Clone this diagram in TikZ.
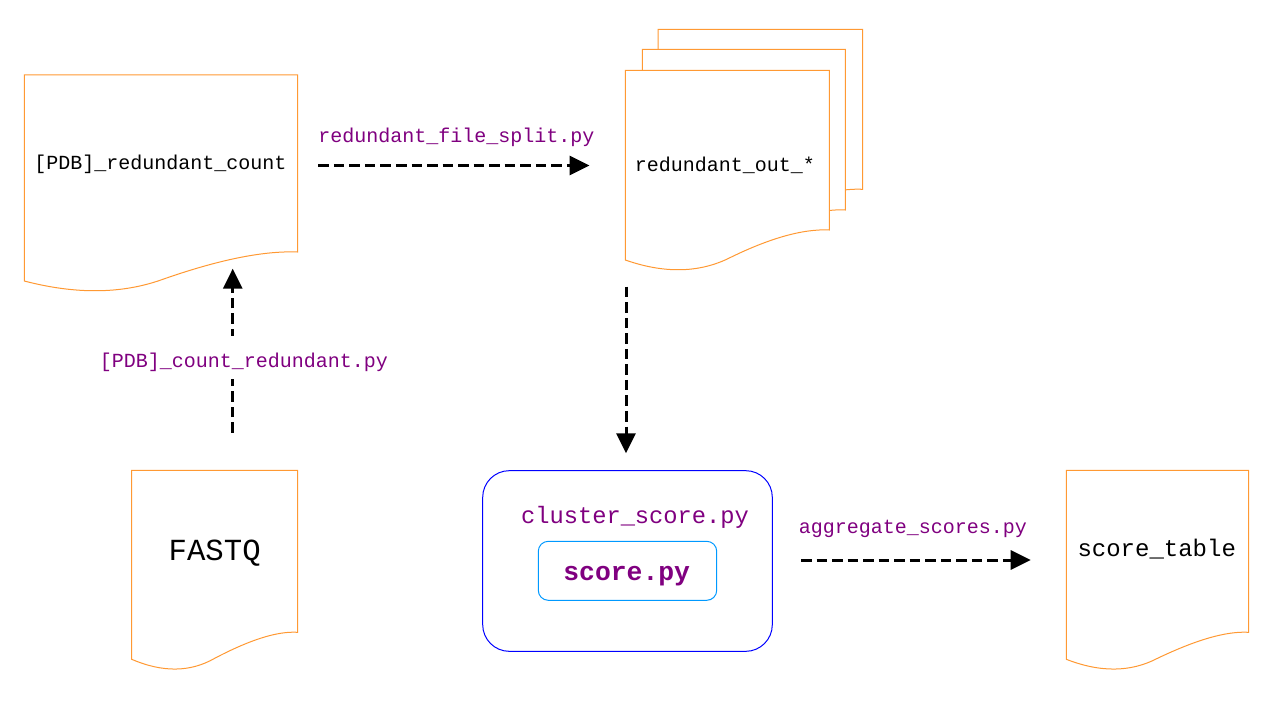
\documentclass[tikz,border=0pt]{standalone}
\usepackage{fontspec}
\setmonofont{Liberation Mono}
\usetikzlibrary{arrows.meta}
\definecolor{docor}{HTML}{FF9933}
\definecolor{lbl}{HTML}{800080}
\definecolor{outerb}{HTML}{0000FF}
\definecolor{innerb}{HTML}{0099FF}
% document shape: L, T, R, yR (right bottom), yL (left bottom)
\newcommand\docshape[5]{%
  \draw[docbox] (#1,#2) -- (#3,#2) -- (#3,#4)
    .. controls ({#1+0.8733*(#3-#1)},{#4-1.33}) and ({#1+0.7067*(#3-#1)},{#4+8}) .. ({#1+0.5*(#3-#1)},{#5-1})
    .. controls ({#1+0.3533*(#3-#1)},{#5+13}) and ({#1+0.1867*(#3-#1)},{#5+13.33}) .. (#1,#5) -- cycle;}
\tikzset{
  docbox/.style={draw=docor, fill=white, line width=0.75pt},
  doctext/.style={anchor=base, inner sep=0pt, font=\ttfamily\fontsize{15pt}{18pt}\selectfont, text=black},
  lbltext/.style={anchor=base, inner sep=0pt, font=\ttfamily\fontsize{15pt}{18pt}\selectfont, text=lbl},
  flow/.style={line width=2.25pt, dash pattern=on 7.9pt off 3.75pt, -{Triangle[length=15pt,width=14.25pt]}},
}
\begin{document}
\begin{tikzpicture}[x=0.75pt,y=-0.75pt]
\useasboundingbox (0,0) rectangle (1280,720);
\fill[white] (0,0) rectangle (1280,720);

% documents
\docshape{24.3}{75}{297.5}{252}{281}
\docshape{131.7}{470.3}{297.7}{632.3}{659.3}
\docshape{1066.3}{470.3}{1248.7}{632.3}{659.3}
\docshape{658}{29.3}{862.7}{189.3}{219.3}
\docshape{642.3}{49.5}{845.3}{210}{240}
\docshape{625.3}{70.3}{829.3}{230}{260}

\node[doctext] (rcount) at (160.5,169.5) {[PDB]\_redundant\_count};
\node[doctext] (rout) at (725,171.7) {redundant\_out\_*};
\node[doctext, font=\ttfamily\fontsize{23pt}{27pt}\selectfont] (fastq) at (214.7,560) {FASTQ};
\node[doctext, font=\ttfamily\fontsize{18pt}{22pt}\selectfont] (table) at (1156.7,556.7) {score\_table};

% cluster box
\node[draw=outerb, line width=0.75pt, rounded corners=20pt, minimum width=217.2pt, minimum height=135.5pt, inner sep=0pt] (cluster) at (627.5,561) {};
\node[draw=innerb, line width=0.75pt, rounded corners=7.5pt, minimum width=133.8pt, minimum height=44.25pt, inner sep=0pt] (scorebox) at (627.5,570.8) {};
\node[lbltext, font=\ttfamily\fontsize{17.8pt}{21pt}\selectfont] (clusterlbl) at (635,523) {cluster\_score.py};
\node[lbltext, font=\ttfamily\bfseries\fontsize{19.8pt}{23pt}\selectfont] (scorelbl) at (626.7,580) {score.py};

% connectors
\coordinate (a1s) at (318.3,165.5);
\coordinate (a1e) at (589.5,165.5);
\coordinate (a2s) at (232.7,432.7);
\coordinate (a2e) at (232.7,268.7);
\coordinate (a3s) at (626,286.7);
\coordinate (a3e) at (626,453.3);
\coordinate (a4s) at (801,560);
\coordinate (a4e) at (1030.7,560);

\draw[flow] (a1s) -- (a1e);
\draw[flow] (a2s) -- (a2e);
\draw[flow] (a3s) -- (a3e);
\draw[flow] (a4s) -- (a4e);

\node[lbltext] (lsplit) at (456.5,142.5) {redundant\_file\_split.py};
\node[lbltext] (lagg) at (913,533) {aggregate\_scores.py};
\node[lbltext, fill=white, inner xsep=1pt, inner ysep=2pt, text height=21.4pt, text depth=6.4pt] (lcount) at (244,367.5) {[PDB]\_count\_redundant.py};
\end{tikzpicture}
\end{document}
